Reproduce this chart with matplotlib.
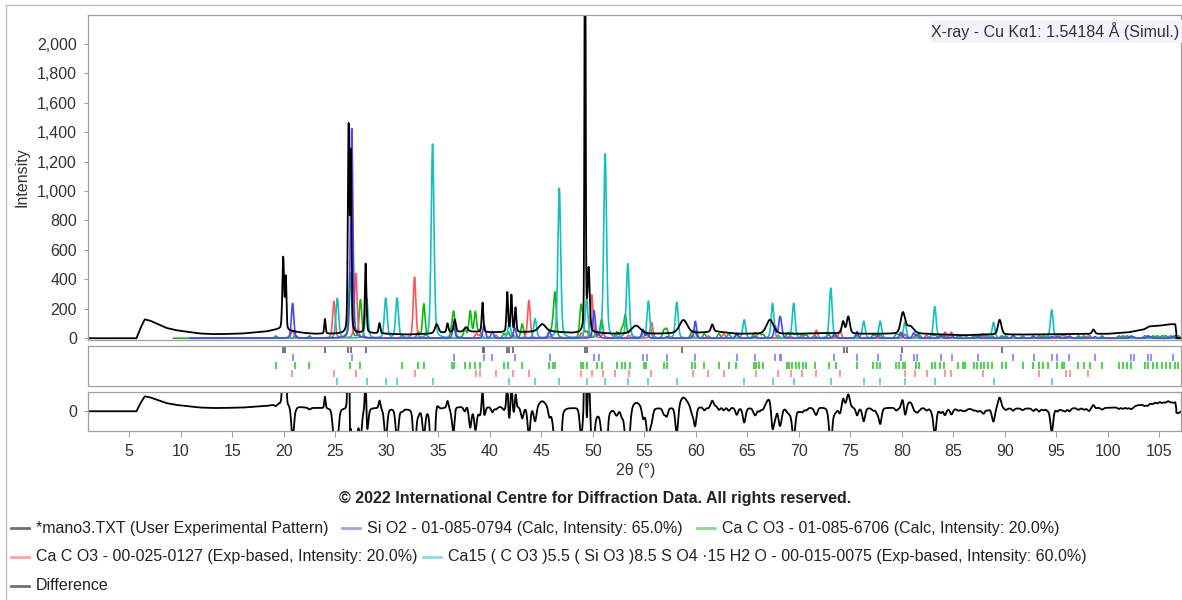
import numpy as np
import matplotlib
matplotlib.use("Agg")
import matplotlib.pyplot as plt
from matplotlib.lines import Line2D
from matplotlib.patches import Rectangle
from matplotlib.ticker import FuncFormatter, MultipleLocator

plt.rcParams['font.family'] = ['Liberation Sans', 'DejaVu Sans']

W, H, DPI = 1182, 600, 100

# ---------------- experimental pattern (*mano3.TXT) ----------------
# background level (2theta, counts)
exp_bg_2theta = [1.0, 5.7, 6.1, 6.5, 7.0, 7.5, 8.0, 8.6, 9.5, 10.5, 11.9, 13.0, 14.0,
                 15.1, 16.0, 17.0, 18.3, 19.0, 19.5, 21.0, 22.0, 23.0, 25.0, 28.0,
                 30.0, 32.0, 34.0, 36.0, 38.0, 40.0, 43.0, 44.5, 46.0, 48.0, 50.5,
                 52.0, 56.0, 60.0, 62.0, 64.0, 66.0, 70.0, 72.0, 76.0, 78.0, 82.0,
                 86.0, 88.0, 92.0, 96.0, 100.0, 102.0, 103.5, 104.0, 105.0, 106.0,
                 106.55, 106.7, 107.2]
exp_bg_counts = [0, 0, 70, 128, 120, 105, 90, 70, 55, 45, 32, 28, 28,
                 30, 32, 38, 45, 55, 60, 45, 35, 30, 30, 35,
                 30, 25, 30, 40, 45, 40, 40, 45, 45, 35, 35,
                 30, 30, 35, 45, 30, 30, 30, 35, 30, 30, 30,
                 20, 25, 25, 28, 30, 40, 60, 80, 85, 95,
                 95, 0, 0]
# reflections observed in the sample (position, height above background, FWHM)
exp_peak_pos = [19.95, 20.2, 24.0, 26.3, 26.52, 27.95, 29.3, 34.85, 35.9, 36.6,
                37.7, 39.3, 41.7, 42.1, 42.5, 45.1, 49.25, 49.6, 54.2, 58.8,
                61.6, 67.2, 74.3, 74.8, 80.1, 80.8, 89.5, 98.6]
exp_peak_height = [490, 350, 100, 1390, 1180, 470, 70, 60, 60, 85,
                   30, 200, 270, 250, 165, 50, 3500, 420, 55, 90,
                   50, 95, 80, 115, 140, 50, 100, 30]
exp_peak_fwhm = [0.2, 0.15, 0.15, 0.18, 0.15, 0.18, 0.2, 0.4, 0.2, 0.25,
                 0.4, 0.18, 0.18, 0.18, 0.18, 0.8, 0.12, 0.25, 1.0, 0.9,
                 0.3, 0.8, 0.3, 0.35, 0.5, 0.8, 0.4, 0.3]
# peak-search marks for the experimental pattern
exp_marks = [19.95, 20.15, 24.0, 26.25, 26.5, 27.95, 39.3, 39.45, 41.7, 41.9,
             42.3, 49.2, 49.45, 58.7, 74.4, 74.7, 80.0, 89.7]

# ---------------- reference phases (position, peak height) ----------------
sio2_pos = [20.86, 26.6, 36.5, 39.45, 40.25, 42.42, 45.8, 50.12, 50.6, 54.87,
            55.3, 57.2, 59.95, 64.0, 65.7, 67.7, 68.15, 68.3, 73.45, 75.65,
            77.65, 79.9, 81.15, 81.5, 83.8, 84.9, 87.4, 90.8, 92.8, 94.6,
            95.1, 96.25, 98.75, 102.2, 102.5, 103.85, 104.2, 106.3]
sio2_height = [237, 1424, 85, 90, 45, 70, 45, 188, 20, 60,
               30, 10, 115, 35, 10, 80, 115, 60, 30, 45,
               15, 40, 35, 20, 20, 10, 10, 20, 8, 12,
               10, 12, 10, 10, 8, 12, 10, 12]

caco3_calc_pos = [19.23, 21.13, 22.49, 26.45, 27.45, 31.49, 33.05, 33.6, 36.3, 36.5,
                  37.59, 38.1, 38.6, 39.01, 41.38, 41.79, 43.15, 45.79, 46.1, 46.33,
                  48.85, 49.04, 49.44, 50.39, 50.85, 52.36, 52.83, 53.15, 53.64, 54.93,
                  55.2, 56.9, 57.17, 59.61, 59.88, 60.83, 62.25, 63.2, 63.94, 65.64,
                  65.84, 66.18, 66.52, 68.89, 69.09, 69.36, 69.7, 70.04, 70.38, 70.72,
                  71.53, 72.89, 73.63, 75.66, 77.22, 77.56, 77.9, 79.46, 79.73, 80.07,
                  80.34, 81.42, 81.69, 82.91, 83.25, 83.72, 84.13, 85.49, 85.89, 86.16,
                  86.98, 87.32, 87.66, 88.0, 88.33, 88.74, 89.69, 90.09, 91.72, 92.74,
                  93.34, 93.75, 94.16, 95.11, 95.51, 95.78, 97.14, 97.68, 98.22, 99.44,
                  101.07, 101.48, 101.88, 102.29, 103.58, 103.92, 104.39, 104.8, 105.27,
                  105.61, 106.08, 106.49, 106.83]
caco3_calc_height = [15, 20, 15, 441, 260, 20, 40, 233, 40, 170,
                     60, 180, 175, 50, 30, 40, 97, 40, 60, 300,
                     199, 80, 40, 40, 125, 40, 60, 154, 50, 40,
                     40, 50, 60, 40, 50, 30, 30, 30, 25, 25,
                     25, 30, 25, 25, 25, 30, 25, 25, 20, 20,
                     20, 25, 20, 20, 20, 25, 20, 25, 20, 25,
                     20, 20, 20, 20, 20, 15, 15, 15, 15, 15,
                     15, 15, 15, 15, 15, 15, 15, 15, 15, 15,
                     15, 15, 15, 15, 15, 15, 15, 15, 15, 15,
                     15, 15, 15, 15, 15, 15, 15, 15, 15,
                     15, 15, 15, 15]

caco3_exp_pos = [20.85, 24.87, 27.0, 32.7, 38.7, 39.1, 40.6, 42.3, 43.8, 48.9,
                 49.9, 51.0, 52.2, 53.5, 55.7, 59.7, 61.2, 62.7, 65.8, 68.0,
                 69.2, 70.3, 71.7, 74.0, 80.3, 81.3, 82.4, 84.2, 84.8, 87.9,
                 93.3, 95.9, 96.3, 98.1]
caco3_exp_height = [55, 249, 441, 414, 30, 25, 20, 20, 256, 35,
                    294, 30, 25, 20, 107, 20, 15, 30, 20, 20,
                    15, 15, 55, 55, 25, 15, 20, 41, 41, 30,
                    12, 15, 15, 15]

thaum_pos = [25.2, 28.05, 29.9, 31.0, 34.45, 41.9, 44.4, 46.75, 49.4, 51.2,
             53.4, 55.4, 58.15, 64.7, 67.45, 69.5, 73.1, 76.3, 77.9, 80.3,
             83.2, 88.9, 94.55]
thaum_height = [271, 271, 271, 271, 1318, 102, 131, 1017, 262, 1250,
                504, 250, 244, 125, 237, 237, 339, 115, 115, 108,
                215, 108, 192]

legend_labels = [
    "*mano3.TXT (User Experimental Pattern)",
    "Si O2 - 01-085-0794 (Calc, Intensity: 65.0%)",
    "Ca C O3 - 01-085-6706 (Calc, Intensity: 20.0%)",
    "Ca C O3 - 00-025-0127 (Exp-based, Intensity: 20.0%)",
    "Ca15 ( C O3 )5.5 ( Si O3 )8.5 S O4 \u00b715 H2 O - 00-015-0075 (Exp-based, Intensity: 60.0%)",
    "Difference",
]


def pseudo_voigt(x, pos, height, fwhm, eta=0.3):
    y = np.zeros_like(x)
    pos = np.atleast_1d(pos)
    height = np.atleast_1d(height)
    fwhm = np.broadcast_to(np.atleast_1d(fwhm), pos.shape)
    for p, h, w in zip(pos, height, fwhm):
        d = (x - p) / w
        y += h * ((1 - eta) * np.exp(-4 * np.log(2) * d * d) + eta / (1 + 4 * d * d))
    return y


tt = np.arange(1.0, 107.2, 0.01)
exp_y = np.interp(tt, exp_bg_2theta, exp_bg_counts) + pseudo_voigt(tt, exp_peak_pos, exp_peak_height, exp_peak_fwhm)
exp_y[tt < 5.7] = 0.0
exp_y[tt > 106.65] = 0.0

sio2_y = pseudo_voigt(tt, sio2_pos, sio2_height, 0.28)
green_y = pseudo_voigt(tt, caco3_calc_pos, caco3_calc_height, 0.3)
red_y = pseudo_voigt(tt, caco3_exp_pos, caco3_exp_height, 0.3)
cyan_y = pseudo_voigt(tt, thaum_pos, thaum_height, 0.32)
diff_y = exp_y - (sio2_y + green_y + red_y + cyan_y)

C_EXP = '#000000'
C_BLUE = '#4646ff'
C_GREEN = '#10b810'
C_RED = '#ff5555'
C_CYAN = '#12c0c0'
SPINE = '#a0a0a0'
TXT = '#333333'
FS = 11.5


def rect(l, t, r, b):
    return [l / W, 1 - b / H, (r - l) / W, (b - t) / H]


fig = plt.figure(figsize=(W / DPI, H / DPI), dpi=DPI)
fig.patch.set_facecolor('white')

# panel frame
fig.add_artist(Line2D([6 / W, 1], [1 - 5 / H, 1 - 5 / H], color='#c0c0c0', lw=1))
fig.add_artist(Line2D([6 / W, 6 / W], [0, 1 - 5 / H], color='#c0c0c0', lw=1))

XLIM = (1.0, 107.1)


def style_axes(ax):
    for s in ax.spines.values():
        s.set_color(SPINE)
        s.set_linewidth(0.9)
    ax.tick_params(colors=SPINE, labelcolor=TXT, labelsize=FS, length=3, width=0.8)
    ax.set_xlim(*XLIM)


# ---- main pattern panel ----
ax = fig.add_axes(rect(88, 15, 1181, 340))
style_axes(ax)
m_green = tt >= 9.3
m_other = tt >= 10.9
ax.plot(tt[m_green], green_y[m_green], color=C_GREEN, lw=1.2)
ax.plot(tt[m_other], red_y[m_other], color=C_RED, lw=1.2)
ax.plot(tt[m_other], cyan_y[m_other], color=C_CYAN, lw=1.2)
ax.plot(tt[m_other], sio2_y[m_other], color=C_BLUE, lw=1.2)
ax.plot(tt, exp_y, color=C_EXP, lw=1.3)
ax.set_ylim(-12, 2195)
ax.yaxis.set_major_locator(MultipleLocator(200))
ax.yaxis.set_major_formatter(FuncFormatter(lambda v, _: f"{int(round(v)):,}"))
ax.tick_params(axis='y', pad=5)
ax.tick_params(axis='x', bottom=False, labelbottom=False)

# ---- reflection marks panel ----
axm = fig.add_axes(rect(88, 346, 1181, 385.5))
style_axes(axm)
axm.set_ylim(0, 5)
mark_rows = [
    (exp_marks, '#505050', 4),
    (sio2_pos, '#7373ff', 3),
    (caco3_calc_pos, '#1ec81e', 2),
    (caco3_exp_pos, '#ff7a7a', 1),
    (thaum_pos, '#35cccc', 0),
]
for pos, col, row in mark_rows:
    axm.vlines(pos, row + 0.08, row + 0.95, color=col, lw=1.1)
axm.set_xticks([])
axm.set_yticks([])

# ---- difference panel ----
axd = fig.add_axes(rect(88, 392, 1181, 430.5))
style_axes(axd)
axd.plot(tt, diff_y, color=C_EXP, lw=1.3)
axd.set_ylim(-165, 165)
axd.set_yticks([0])
axd.set_yticklabels(['0'])
axd.tick_params(axis='y', pad=5)
axd.set_xticks(np.arange(5, 106, 5))
axd.set_xticklabels([str(v) for v in range(5, 106, 5)])
axd.tick_params(axis='x', length=4, pad=6)

# ---- texts ----
def ftext(x, y, s, **kw):
    kw.setdefault('fontsize', FS)
    kw.setdefault('color', TXT)
    fig.text(x / W, 1 - y / H, s, **kw)


ftext(22, 177, "Intensity", rotation=90, ha='center', va='center')
ftext(636, 471, "2\u03b8 (\u00b0)", ha='center', va='center')
ftext(595, 498, "\u00a9 2022 International Centre for Diffraction Data. All rights reserved.",
      ha='center', va='center', fontweight='bold', color='#222222')

fig.add_artist(Rectangle((931 / W, 1 - 43 / H), (W - 931) / W, 23 / H,
                         transform=fig.transFigure, facecolor='#f3f3fb', edgecolor='none'))
ftext(1179, 31.5, "X-ray - Cu K\u03b11: 1.54184 \u00c5 (Simul.)", ha='right', va='center')

legend_items = [
    (36, 528, '#707070', legend_labels[0]),
    (367, 528, '#a0a0f8', legend_labels[1]),
    (722, 528, '#80e080', legend_labels[2]),
    (36, 556.5, '#ffa0a0', legend_labels[3]),
    (448, 556.5, '#80e0e0', legend_labels[4]),
    (36, 586, '#707070', legend_labels[5]),
]
for x0, y0, col, lab in legend_items:
    fig.add_artist(Line2D([(x0 - 25) / W, (x0 - 7) / W], [1 - y0 / H, 1 - y0 / H],
                          color=col, lw=2.0))
    ftext(x0, y0, lab, ha='left', va='center', color='#222222')

fig.savefig("out.png", dpi=DPI, facecolor='white')
